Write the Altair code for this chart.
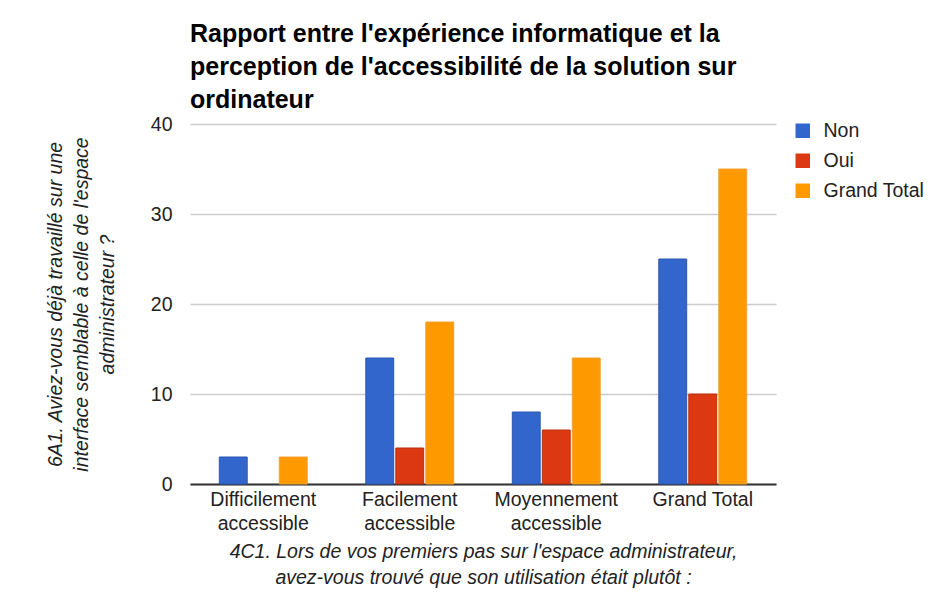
import altair as alt
import pandas as pd

categories = ["Difficilement accessible", "Facilement accessible", "Moyennement accessible", "Grand Total"]
series = ["Non", "Oui", "Grand Total"]
non_values = [3, 14, 8, 25]
oui_values = [0, 4, 6, 10]
total_values = [3, 18, 14, 35]
colors = ["#3366cc", "#dc3912", "#ff9900"]
stroke_colors = ["#2a57b0", "#b8300f", "#f0a030"]

rows = []
for i, c in enumerate(categories):
    for s, vals in zip(series, [non_values, oui_values, total_values]):
        rows.append({"cat": c, "serie": s, "value": vals[i]})
df = pd.DataFrame(rows)

FONT = "Liberation Sans"
FS = 19.5

chart = alt.Chart(df).mark_bar(strokeWidth=1).encode(
    x=alt.X("cat:N", sort=categories,
            scale=alt.Scale(paddingInner=0.4, paddingOuter=0.2),
            axis=alt.Axis(
                title=["4C1. Lors de vos premiers pas sur l'espace administrateur,",
                       "avez-vous trouvé que son utilisation était plutôt :"],
                titleFontStyle="italic", titleFontWeight="normal", titleFontSize=FS,
                titleColor="#222222", titleFont=FONT, titleLineHeight=26, titlePadding=10,
                labelAngle=0, labelFontSize=FS, labelColor="#222222", labelFont=FONT,
                labelLineHeight=24, labelPadding=6,
                labelExpr="datum.label == 'Grand Total' ? datum.label : split(datum.label, ' ')",
                ticks=False, domainColor="#333333", domainWidth=2)),
    xOffset=alt.XOffset("serie:N", sort=series, scale=alt.Scale(paddingInner=0.07)),
    y=alt.Y("value:Q", scale=alt.Scale(domain=[0, 40]),
            axis=alt.Axis(
                title=["6A1. Aviez-vous déjà travaillé sur une",
                       "interface semblable à celle de l'espace",
                       "administrateur ?"],
                titleFontStyle="italic", titleFontWeight="normal", titleFontSize=FS,
                titleColor="#222222", titleFont=FONT, titleLineHeight=26, titlePadding=33,
                values=[0, 10, 20, 30, 40], labelFontSize=FS, labelColor="#222222",
                labelFont=FONT, labelPadding=18, ticks=False, domain=False,
                gridColor="#cccccc", gridWidth=1.5, grid=True)),
    color=alt.Color("serie:N", sort=series,
                    scale=alt.Scale(domain=series, range=colors),
                    legend=alt.Legend(title=None, orient="none", legendX=603, legendY=-3,
                                      symbolType="square",
                                      symbolSize=210, symbolStrokeWidth=0,
                                      labelFontSize=FS, labelFont=FONT,
                                      labelColor="#222222", rowPadding=9,
                                      labelOffset=11)),
    stroke=alt.Stroke("serie:N", sort=series,
                      scale=alt.Scale(domain=series, range=stroke_colors),
                      legend=None),
    opacity=alt.condition(alt.datum.value > 0, alt.value(1), alt.value(0)),
).properties(
    width=586, height=360,
    title=alt.TitleParams(
        ["Rapport entre l'expérience informatique et la",
         "perception de l'accessibilité de la solution sur",
         "ordinateur"],
        anchor="start", frame="group", fontSize=25, fontWeight="bold",
        font=FONT, color="#000000", lineHeight=33, offset=1),
    padding={"left": 37, "top": 14, "right": 5, "bottom": 5},
).configure_view(stroke=None)

chart.save("out.html", embed_options={"renderer": "svg", "actions": False})
